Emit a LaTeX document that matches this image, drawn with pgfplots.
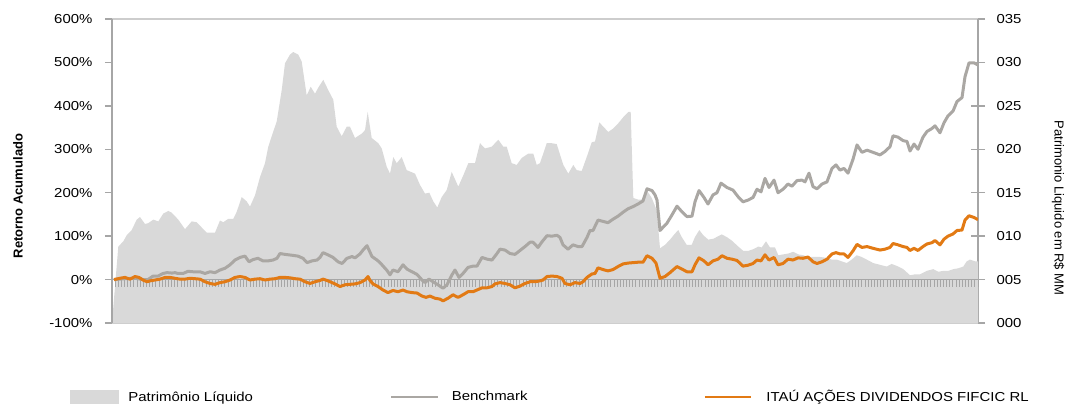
\documentclass[border=0pt]{standalone}
\usepackage{pgfplots}
\pgfplotsset{compat=1.18}
\usepackage{fontspec}
\setmainfont{Liberation Sans}[FakeStretch=1.15]
\newfontfamily\rotfont{Liberation Sans}
\definecolor{plgray}{RGB}{217,217,217}
\definecolor{bmgray}{RGB}{170,167,163}
\definecolor{itau}{RGB}{226,122,20}
\definecolor{axgray}{RGB}{166,166,166}
\definecolor{framegray}{RGB}{205,205,205}
\begin{document}
\begin{tikzpicture}
\path[use as bounding box] (-112pt,-82pt) rectangle (953pt,323pt);
% ---------- right axis: Patrimonio Liquido (area) ----------
\begin{axis}[
  scale only axis, width=866pt, height=304pt, at={(0,0)}, anchor=south west,
  xmin=112, xmax=978, ymin=0, ymax=35,
  axis x line=box, axis y line*=right,
  xtick=\empty,
  ytick={0,5,...,35}, yticklabels={000,005,010,015,020,025,030,035},
  ytick align=center, major tick length=14pt,
  y tick style={axgray, line width=1.5pt},
  y axis line style={axgray, line width=1.5pt},
  x axis line style={framegray, line width=1.5pt},
  yticklabel style={font=\fontsize{13}{15}\selectfont, xshift=8pt},
  ylabel={Patrimonio Liquido em R\$ MM},
  ylabel style={font=\rotfont\fontsize{13}{15}\selectfont, rotate=180,
    at={(axis description cs:1.0924,0.378)}, anchor=center},
]
\addplot[fill=plgray, draw=none] coordinates {
(112,0) (118.3,8.8) (123.3,9.4) (126.7,10.1) (131.7,10.7) (136.7,11.9) (140,12.2) (145,11.4) (148.3,11.5) (153.3,11.9) (158.3,11.7) (163.3,12.6) (168.3,12.9) (171.7,12.7) (178.3,11.9) (185,10.8) (191.7,11.7) (196.7,11.6) (206.7,10.4) (215,10.4) (220,11.8) (223.3,11.6) (228.3,12.0) (233.3,12.0) (236.7,12.8) (241.7,14.5) (246.7,14.0) (250,13.4) (255,14.7) (260,16.8) (265,18.4) (268.3,20.3) (271.7,21.5) (276.7,23.2) (281.7,26.8) (285,29.9) (290,30.9) (293.3,31.2) (298.3,30.9) (301.7,30.1) (306.7,26.2) (310.7,27.2) (315,26.4) (318.3,27.1) (323.3,28.0) (328.3,26.8) (333.3,25.7) (336.7,22.6) (341.7,21.5) (346.7,22.6) (350,22.6) (355,21.3) (361.7,21.8) (365,22.2) (367.7,24.3) (371.7,21.3) (378.3,20.7) (381.7,20.1) (386.7,18.0) (390,17.2) (393.3,19.1) (396.7,18.4) (401.7,19.1) (406.7,17.6) (415,17.2) (420,15.9) (425,14.9) (429.3,15.0) (433.3,14.0) (437.3,13.3) (441.7,14.5) (446.7,15.3) (451.7,17.4) (458.3,15.7) (463.3,17.0) (468.3,18.4) (475,18.4) (480,20.7) (485,20.1) (491.7,20.3) (498.3,21.1) (503.3,20.3) (506.7,20.3) (511.7,18.4) (516.7,18.2) (521.7,19.0) (528.3,19.5) (533.3,19.5) (536.7,18.2) (540,18.4) (546.7,20.7) (551.7,20.7) (556.7,20.6) (563.3,18.2) (568.3,17.2) (573.3,18.2) (576.7,17.6) (581.7,17.5) (586.7,19.1) (591.7,20.8) (595,20.9) (599.3,23.1) (603.3,22.6) (608.3,22.0) (613.3,22.4) (618.3,23.0) (623.3,23.7) (628.3,24.3) (630.7,24.3) (633.3,14.4) (638.3,14.2) (641.7,14.2) (646.7,15.3) (651.7,14.4) (656.7,13.0) (660,8.6) (665,9.0) (670,9.6) (675,10.3) (678.3,10.7) (681.7,9.9) (686.7,9.0) (691.7,9.0) (695,9.9) (699.3,10.7) (703.3,10.1) (708.3,9.6) (713.3,9.7) (716.7,9.9) (721.7,10.2) (726.7,9.9) (731.7,9.5) (738.3,8.8) (743.3,8.3) (748.3,8.3) (753.3,8.5) (758.3,8.8) (761.7,8.7) (766,9.4) (770,8.7) (775,8.7) (778.3,7.8) (783.3,7.9) (788.3,8.0) (793.3,8.2) (798.3,7.9) (803.3,7.8) (808.3,7.6) (820,7.6) (826.7,7.5) (831.7,7.3) (836.7,7.3) (841.7,7.1) (846.7,6.9) (851.7,7.3) (856.7,7.8) (861.7,7.6) (866.7,7.3) (873.3,6.9) (880,6.7) (886.7,6.5) (891.7,6.8) (898.3,6.5) (903.3,6.2) (910,5.5) (915,5.6) (920,5.6) (926.7,6.0) (933.3,6.2) (938.3,5.9) (943.3,6.0) (948.3,6.0) (953.3,6.2) (958.3,6.3) (963.3,6.5) (966.7,7.1) (970,7.3) (975,7.1) (978,7.1)
} \closedcycle;
\end{axis}
% ---------- left axis: returns ----------
\begin{axis}[
  scale only axis, width=866pt, height=304pt, at={(0,0)}, anchor=south west,
  xmin=112, xmax=978, ymin=-100, ymax=600,
  axis x line=middle, axis y line*=left,
  hide obscured x ticks=false, hide obscured y ticks=false,
  x axis line style={axgray, line width=1.5pt, -},
  y axis line style={axgray, line width=1.5pt, -},
  xtick={112,115.13768,...,978}, xticklabels={},
  xtick align=outside, major tick length=7pt,
  x tick style={axgray, line width=1pt},
  ytick={-100,0,...,600},
  yticklabels={-100\%,0\%,100\%,200\%,300\%,400\%,500\%,600\%},
  ytick align=outside,
  y tick style={axgray, line width=1.5pt},
  yticklabel style={font=\fontsize{13}{15}\selectfont, xshift=-9pt},
  ylabel={Retorno Acumulado},
  ylabel style={font=\rotfont\bfseries\fontsize{13}{15}\selectfont,
    at={(axis description cs:-0.1085,0.418)}, anchor=center},
  legend style={at={(axis description cs:-0.0485,-0.2434)}, anchor=west,
    draw=none, fill=none, inner sep=0pt, outer sep=0pt,
    column sep=0pt, nodes={inner sep=0pt, font=\fontsize{13}{15}\selectfont}},
  legend columns=3, legend cell align=left,
]
\addlegendimage{legend image code/.code={\fill[plgray] (0pt,-6.5pt) rectangle (48pt,6.5pt); \path (58pt,0pt);}}
\addlegendentry{\makebox[262pt][l]{Patrimônio Líquido}}
\addplot[bmgray, line width=3pt, line join=round,
  legend image code/.code={\draw[bmgray, line width=2pt] (0pt,0pt) -- (47pt,0pt); \path (59pt,0pt);}] coordinates {
(114,0) (125,2) (135,3) (143,0) (148,0) (153,8) (158,8) (163,14) (167,16) (172,15) (175,16) (178,14) (183,14) (188,19) (193,18) (200,18) (205,14) (210,18) (215,16) (220,22) (225,26) (230,34) (235,45) (240,51) (245,54) (249,41) (253,46) (258,49) (263,43) (268,43) (273,45) (277,49) (280,60) (285,58) (292,56) (298,54) (303,49) (307,39) (312,43) (317,45) (320,51) (323,62) (328,57) (333,51) (338,41) (342,37) (347,49) (352,53) (355,50) (360,59) (363,68) (367,78) (372,53) (377,45) (380,39) (387,21) (390,11) (393,22) (398,18) (403,34) (407,24) (412,18) (417,12) (422,-1) (425,-7) (429,1) (433,-5) (438,-12) (443,-20) (447,-12) (452,11) (455,22) (459,5) (463,14) (468,28) (473,31) (477,31) (482,51) (487,47) (492,45) (497,60) (500,70) (505,68) (510,60) (515,58) (520,67) (525,76) (530,86) (533,86) (538,74) (542,87) (547,101) (552,100) (557,102) (560,97) (563,80) (568,70) (573,80) (578,76) (582,76) (587,97) (590,113) (593,113) (598,137) (603,134) (608,131) (613,139) (618,146) (623,155) (628,163) (633,168) (638,174) (643,181) (647,209) (652,205) (655,195) (657,183) (660,113) (667,130) (672,149) (677,169) (682,156) (687,145) (692,146) (695,179) (699,205) (704,189) (708,174) (713,195) (717,200) (721,222) (727,212) (733,206) (738,191) (743,179) (748,183) (753,189) (757,208) (761,202) (765,233) (769,212) (774,229) (778,200) (783,208) (788,220) (792,215) (797,228) (802,229) (805,225) (809,245) (813,214) (817,209) (822,220) (827,225) (832,256) (836,264) (840,252) (844,256) (848,245) (853,277) (857,310) (862,293) (867,298) (873,293) (880,287) (885,295) (890,306) (893,331) (898,328) (903,320) (907,318) (910,296) (914,312) (918,300) (923,328) (927,341) (932,348) (935,354) (940,338) (944,361) (948,377) (953,388) (957,410) (962,419) (965,467) (969,499) (974,499) (978,494)
};
\addlegendentry{\makebox[252pt][l]{Benchmark}}
\addplot[itau, line width=3pt, line join=round,
  legend image code/.code={\draw[itau, line width=2pt] (0pt,0pt) -- (46pt,0pt); \path (60pt,0pt);}] coordinates {
(114,0) (120,3) (125,5) (130,1) (135,7) (139,5) (143,-1) (147,-5) (150,-3) (155,-1) (160,1) (165,5) (170,5) (175,3) (180,1) (185,1) (190,3) (195,2) (200,1) (205,-5) (210,-9) (215,-11) (220,-7) (225,-5) (230,-1) (235,5) (240,7) (245,5) (250,-1) (255,1) (260,2) (265,-1) (270,1) (275,2) (280,5) (285,5) (290,4) (295,2) (300,1) (305,-5) (310,-9) (315,-5) (320,-2) (323,1) (327,-2) (330,-5) (335,-10) (340,-16) (345,-12) (350,-11) (355,-10) (360,-7) (365,-1) (368,7) (370,-2) (373,-10) (378,-16) (383,-24) (388,-30) (393,-25) (398,-28) (403,-24) (407,-28) (412,-30) (417,-31) (422,-38) (426,-41) (430,-38) (435,-43) (440,-45) (443,-49) (448,-43) (453,-35) (458,-41) (463,-35) (468,-28) (473,-28) (477,-24) (482,-19) (487,-19) (492,-16) (495,-10) (500,-7) (505,-9) (510,-12) (515,-19) (520,-15) (525,-9) (530,-5) (535,-5) (540,-3) (543,-1) (547,7) (552,8) (557,7) (562,3) (565,-9) (570,-12) (575,-7) (580,-9) (583,-5) (587,5) (592,13) (595,14) (598,27) (603,23) (608,20) (613,23) (618,30) (623,36) (628,38) (633,39) (638,40) (643,40) (647,55) (652,49) (656,38) (660,3) (665,7) (670,16) (677,30) (682,24) (687,18) (692,18) (695,34) (699,50) (704,43) (708,34) (713,43) (718,47) (722,55) (727,49) (732,47) (737,44) (743,31) (748,33) (753,37) (757,45) (761,43) (765,57) (769,45) (774,51) (778,34) (783,37) (788,47) (793,45) (798,50) (803,49) (808,52) (813,41) (817,37) (822,41) (827,47) (832,59) (836,62) (840,59) (844,59) (848,51) (853,66) (857,81) (862,74) (867,76) (873,72) (880,68) (885,70) (890,74) (893,83) (898,80) (903,76) (907,74) (910,67) (914,72) (918,67) (923,76) (927,82) (932,85) (935,90) (940,80) (944,93) (948,100) (953,105) (957,113) (962,114) (965,137) (969,147) (974,143) (978,138)
};
\addlegendentry{ITAÚ AÇÕES DIVIDENDOS FIFCIC RL}
\end{axis}
\end{tikzpicture}
\end{document}
